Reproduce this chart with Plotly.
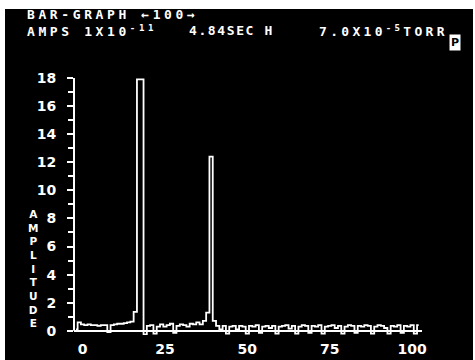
import plotly.graph_objects as go

# ---- data ----
mass = list(range(-2, 103))
amplitude = [
    0.1, 0.6, 0.45, 0.4, 0.45, 0.4, 0.4, 0.35, 0.4, 0.4,      # -2..7
    -0.1, 0.4, 0.45, 0.5, 0.5, 0.55,                          # 8..13
    0.6, 0.65, 1.35, 17.9, 17.9, -0.25, 0.35, 0.4, -0.2, 0.3,  # 14..23
    0.45, 0.3, 0.4, 0.5, -0.15, 0.35, 0.45, 0.4, 0.3, 0.5,     # 24..33
    0.45, 0.6, 0.45, 0.7, 1.3, 12.4, 0.7, 0.35, 0.1, 0.35,     # 34..43
    -0.2, 0.3, 0.35, 0.1, 0.35, 0.3, -0.2, 0.35, 0.3, 0.4,     # 44..53
    -0.15, 0.3, 0.35, 0.2, 0.35, -0.2, 0.3, 0.35, 0.4, 0.15,   # 54..63
    0.35, -0.2, 0.3, 0.4, 0.35, -0.15, 0.35, 0.3, 0.4, -0.2,   # 64..73
    0.3, 0.35, 0.4, 0.2, 0.35, -0.2, 0.3, 0.4, 0.35, -0.15,    # 74..83
    0.35, 0.3, 0.4, 0.35, -0.2, 0.3, 0.4, 0.35, 0.2, -0.2,     # 84..93
    0.35, 0.3, 0.4, -0.15, 0.35, 0.3, 0.4, -0.2, 0.4,          # 94..102
]
x_ticks = [0, 25, 50, 75, 100]
y_ticks = list(range(0, 19, 2))
header1 = "BAR-GRAPH ←100→"
header2 = ["AMPS 1X10<sup>-11</sup>", "4.84SEC H", "7.0X10<sup>-5</sup>TORR"]
y_title = "AMPLITUDE"
bottom_title = "MASS"

# ---- layout geometry (pixels) ----
W, H = 475, 360
L, R, T, B = 74, 53, 78, 25
pw, ph = W - L - R, H - T - B

def px(xp):
    return (xp - L) / pw

def py(yp):
    return (H - B - yp) / ph

def spaced(t, sp):
    return f'<span style="letter-spacing:{sp}px">{t}</span>'

FONT = "DejaVu Sans"
MONO = "DejaVu Sans Mono"
fig = go.Figure()
fig.add_trace(go.Scatter(
    x=mass, y=amplitude, mode="lines", line_shape="hvh",
    line=dict(color="white", width=1.8), hoverinfo="skip", showlegend=False))

shapes = [
    # black CRT screen
    dict(type="rect", xref="paper", yref="paper", x0=px(5), x1=px(473),
         y0=py(9), y1=py(362), fillcolor="black", line_width=0, layer="below"),
    # y axis line
    dict(type="line", xref="paper", yref="y", x0=0, x1=0, y0=0, y1=18,
         line=dict(color="white", width=2)),
]

ann = []
ann.append(dict(text=spaced(header1, 3.6), x=px(25), y=py(15), xref="paper", yref="paper",
                xanchor="left", yanchor="middle", showarrow=False,
                font=dict(family=MONO, size=13, color="white", weight="bold")))
for t, xl, sp in zip(header2, [25, 187, 317], [3.6, 1.6, 3.3]):
    ann.append(dict(text=spaced(t, sp), x=px(xl), y=py(31), xref="paper", yref="paper",
                    xanchor="left", yanchor="middle", showarrow=False,
                    font=dict(family=MONO, size=13, color="white", weight="bold")))
ann.append(dict(text="P", x=px(455), y=py(42), xref="paper", yref="paper",
                xanchor="center", yanchor="middle", showarrow=False,
                bgcolor="white", borderpad=1,
                font=dict(family=FONT, size=11, color="black", weight="bold")))
ann.append(dict(text="<br>".join(y_title), x=px(33), y=py(268), xref="paper", yref="paper",
                xanchor="center", yanchor="middle", showarrow=False,
                font=dict(family=FONT, size=10.5, color="white", weight="bold")))
ann.append(dict(text=bottom_title, x=px(243), y=py(356), xref="paper", yref="paper",
                xanchor="center", yanchor="top", showarrow=False,
                font=dict(family=FONT, size=13, color="white", weight="bold")))

fig.update_layout(
    width=W, height=H, margin=dict(l=L, r=R, t=T, b=B, pad=0, autoexpand=False),
    paper_bgcolor="white", plot_bgcolor="black",
    shapes=shapes, annotations=ann, showlegend=False,
    xaxis=dict(range=[-2.6, 103], tickvals=x_ticks, ticks="", showgrid=False,
               zeroline=False, showline=False, automargin=False,
               tickfont=dict(family=FONT, size=14, color="white", weight="bold"),
               ticklabelstandoff=4),
    yaxis=dict(range=[-0.3, 18], tickvals=y_ticks, ticks="outside", ticklen=6,
               tickwidth=2, tickcolor="white", showgrid=False, automargin=False,
               zeroline=True, zerolinecolor="white", zerolinewidth=1.5,
               showline=False,
               minor=dict(dtick=1, tick0=0, ticks="outside", ticklen=5,
                          tickwidth=2, tickcolor="white"),
               tickfont=dict(family=FONT, size=14, color="white", weight="bold"),
               ticklabelstandoff=8),
)
fig.write_html("out.html")
